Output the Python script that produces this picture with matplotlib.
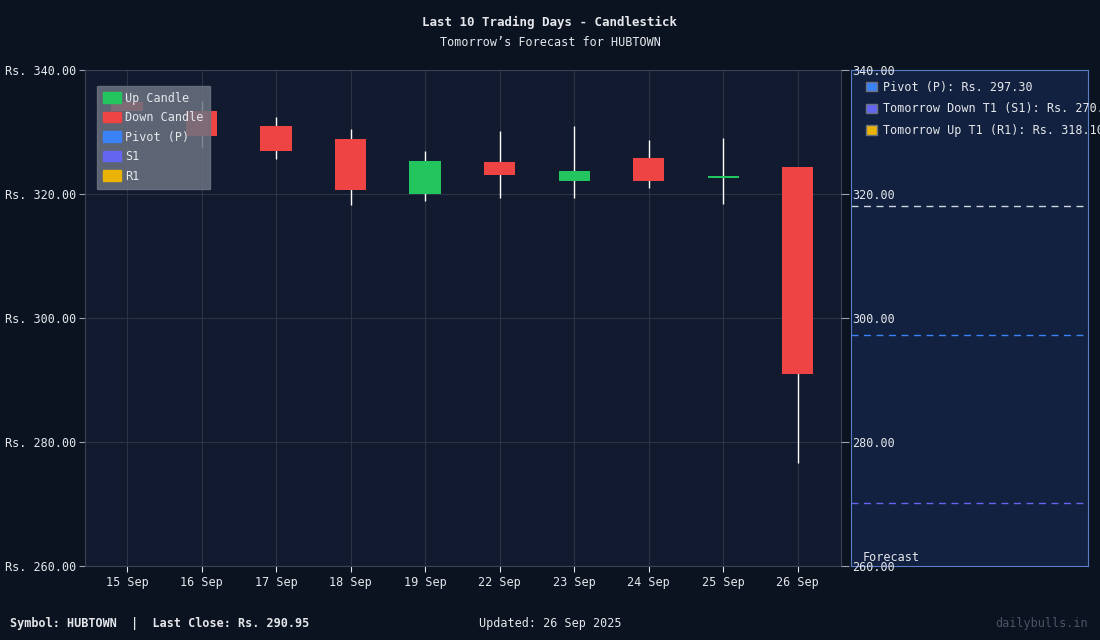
import matplotlib
matplotlib.use("Agg")
import matplotlib.pyplot as plt
from matplotlib.patches import Patch

dates = ["15 Sep","16 Sep","17 Sep","18 Sep","19 Sep","22 Sep","23 Sep","24 Sep","25 Sep","26 Sep"]
opens = [334.8, 333.4, 331.0, 328.9, 320.0, 325.2, 322.1, 325.8, 322.6, 324.4]
highs = [336.0, 335.0, 332.4, 330.5, 327.0, 330.2, 331.0, 328.7, 329.0, 324.4]
lows = [332.5, 327.6, 325.6, 318.2, 318.9, 319.4, 319.4, 321.0, 318.4, 276.6]
closes = [333.4, 329.4, 326.9, 320.6, 325.3, 323.1, 323.7, 322.1, 322.8, 290.95]
pivot, s1, r1 = 297.30, 270.20, 318.10
yticks = [260, 280, 300, 320, 340]

plt.rcParams["font.family"] = "DejaVu Sans Mono"
BG = "#0b1220"; AX = "#111a2e"; TXT = "#e5e7eb"; GRID = "#2b3445"
UP = "#22c55e"; DN = "#ef4444"

fig = plt.figure(figsize=(11, 6.4), dpi=100, facecolor=BG)
ax = fig.add_axes([85/1100, 1-566/640, 756/1100, 496/640], facecolor=AX)
fx = fig.add_axes([851/1100, 1-566/640, 237/1100, 496/640], facecolor="#12213f")

for i in range(len(dates)):
    o, h, l, c = opens[i], highs[i], lows[i], closes[i]
    col = UP if c >= o else DN
    ax.vlines(i, l, h, color="white", lw=1, zorder=2)
    ax.bar(i, max(abs(c-o), 0.25), bottom=min(o, c), width=0.42, color=col, zorder=3)

ax.set_xlim(-0.564, 9.58)
ax.set_ylim(260, 340)
ax.set_xticks(range(len(dates)))
ax.set_xticklabels(dates)
ax.set_yticks(yticks)
ax.set_yticklabels([f"Rs. {v:.2f}" for v in yticks])
ax.grid(True, color=GRID, lw=0.8)
ax.tick_params(colors=TXT, labelsize=8.5, length=4)
ax.tick_params(axis="y", colors="#9ca3af", labelcolor=TXT)
for s in ax.spines.values():
    s.set_color("#3a4354")
ax.yaxis.set_tick_params(pad=2)

ax2 = ax.twinx()
ax2.set_ylim(260, 340)
ax2.set_yticks(yticks)
ax2.set_yticklabels([f"{v:.2f}" for v in yticks])
ax2.tick_params(colors="#9ca3af", labelcolor=TXT, labelsize=8.5, length=6, pad=2)
for s in ax2.spines.values():
    s.set_visible(False)

handles = [Patch(facecolor=UP, edgecolor=UP, label="Up Candle"),
           Patch(facecolor=DN, edgecolor=DN, label="Down Candle"),
           Patch(facecolor="#3b82f6", edgecolor="#3b82f6", label="Pivot (P)"),
           Patch(facecolor="#6366f1", edgecolor="#6366f1", label="S1"),
           Patch(facecolor="#eab308", edgecolor="#eab308", label="R1")]
leg = ax.legend(handles=handles, loc="upper left", bbox_to_anchor=(0.008, 0.98),
                facecolor="#6b7280", framealpha=0.85, edgecolor="#6b7280",
                labelcolor=TXT, fontsize=8.5, fancybox=False, handlelength=1.5,
                handleheight=1.0, borderpad=0.5, labelspacing=0.55, handletextpad=0.4)

fx.set_xlim(0, 1); fx.set_ylim(260, 340)
fx.axhline(r1, color="#cbd5e1", ls=(0, (5, 4)), lw=1)
fx.axhline(pivot, color="#3b82f6", ls=(0, (5, 4)), lw=1)
fx.axhline(s1, color="#6366f1", ls=(0, (5, 4)), lw=1)
fx.set_xticks([]); fx.set_yticks([])
for s in fx.spines.values():
    s.set_color("#5b7fc7")
fx.text(0.05, 0.005, "Forecast", color=TXT, fontsize=8.5, transform=fx.transAxes, va="bottom")
fh = [Patch(facecolor="#3b82f6", edgecolor="#6b7280", label=f"Pivot (P): Rs. {pivot:.2f}"),
      Patch(facecolor="#6366f1", edgecolor="#6b7280", label=f"Tomorrow Down T1 (S1): Rs. {s1:.2f}"),
      Patch(facecolor="#eab308", edgecolor="#6b7280", label=f"Tomorrow Up T1 (R1): Rs. {r1:.2f}")]
fl = fx.legend(handles=fh, loc="upper left", bbox_to_anchor=(0.02, 1.0), frameon=False,
               labelcolor=TXT, fontsize=8.5, handlelength=0.9, handleheight=0.9,
               labelspacing=0.75, handletextpad=0.5)

fig.text(0.5, 1-22/640, "Last 10 Trading Days - Candlestick", color=TXT, fontsize=9,
         fontweight="bold", ha="center", va="center")
fig.text(0.5, 1-43/640, "Tomorrow\u2019s Forecast for HUBTOWN", color=TXT, fontsize=8.5,
         ha="center", va="center")
fig.text(10/1100, 1-623/640, "Symbol: HUBTOWN  |  Last Close: Rs. 290.95", color=TXT,
         fontsize=8.5, va="center", fontweight="bold")
fig.text(0.5, 1-623/640, "Updated: 26 Sep 2025", color=TXT, fontsize=8.5, ha="center", va="center")
fig.text(1088/1100, 1-623/640, "dailybulls.in", color="#4b5563", fontsize=8.5, ha="right", va="center")

fig.savefig("out.png", dpi=100, facecolor=BG)
